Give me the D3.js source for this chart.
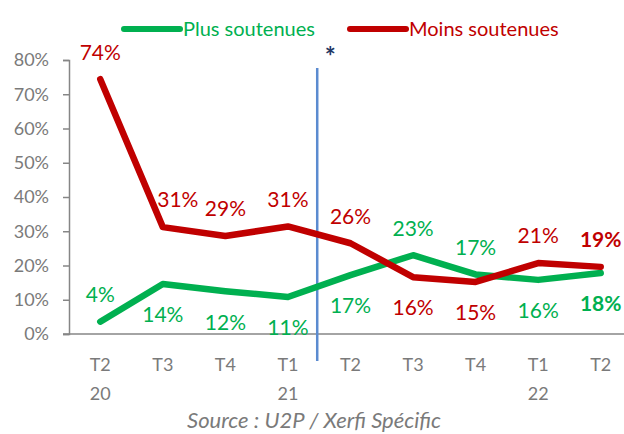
<!DOCTYPE html>
<html>
<head>
<meta charset="utf-8">
<script src="https://cdn.jsdelivr.net/npm/d3@7"></script>
<style>
  body { margin: 0; background: #fff; }
  text { font-family: Lato, "Open Sans", sans-serif; }
</style>
</head>
<body>
<svg id="chart" width="624" height="434"></svg>
<script>
// data
const quarters = ['T2', 'T3', 'T4', 'T1', 'T2', 'T3', 'T4', 'T1', 'T2'];
const years    = ['20', '', '', '21', '', '', '', '22', ''];
const plusSoutenues  = [3.6, 14.6, 12.5, 10.8, 17.2, 23.0, 17.4, 15.8, 17.8];
const moinsSoutenues = [74.4, 31.2, 28.6, 31.4, 26.5, 16.6, 15.2, 20.7, 19.6];
const plusLabels  = ['4%', '14%', '12%', '11%', '17%', '23%', '17%', '16%', '18%'];
const moinsLabels = ['74%', '31%', '29%', '31%', '26%', '16%', '15%', '21%', '19%'];
const plusSide  = ['up', 'down', 'down', 'down', 'down', 'up', 'up', 'down', 'down'];
const moinsSide = ['up', 'up', 'up', 'up', 'up', 'down', 'down', 'up', 'up'];
const yTicks = [0, 10, 20, 30, 40, 50, 60, 70, 80];

const GREEN = '#00b050', RED = '#c00000', GREY = '#7a7a7a';

const svg = d3.select('#chart');
const idx = quarters.map((d, i) => i);

const x = d3.scaleBand().domain(idx).range([69, 632]);
const cx = i => x(i) + x.bandwidth() / 2;
const y = d3.scaleLinear().domain([0, 80]).range([334, 60]);

// y axis
const yAxis = svg.append('g')
    .attr('transform', 'translate(69,0)')
    .call(d3.axisLeft(y).tickValues(yTicks).tickSize(6).tickFormat(d => d + '%'));
yAxis.select('.domain').attr('stroke', '#868686').attr('stroke-width', 1.5);
yAxis.selectAll('.tick line').attr('stroke', '#868686').attr('stroke-width', 1.5);
yAxis.selectAll('.tick text')
    .attr('x', -20)
    .attr('fill', GREY)
    .style('font-size', '18px')
    .style('font-family', 'Lato, sans-serif');

// x axis line
svg.append('line')
    .attr('x1', 63).attr('x2', 624)
    .attr('y1', y(0)).attr('y2', y(0))
    .attr('stroke', '#868686').attr('stroke-width', 1.5);

const xl = svg.append('g').selectAll('text').data(idx).join('text')
    .attr('x', cx)
    .attr('text-anchor', 'middle')
    .attr('fill', GREY)
    .style('font-size', '18px');
xl.append('tspan').attr('x', cx).attr('y', 371).text(i => quarters[i]);
xl.append('tspan').attr('x', cx).attr('y', 400).text(i => years[i]);

// separator
const sepX = (cx(3) + cx(4)) / 2 - 2;
svg.append('line')
    .attr('x1', sepX).attr('x2', sepX)
    .attr('y1', 68).attr('y2', 361)
    .attr('stroke', '#5b8bd0').attr('stroke-width', 2.5);
svg.append('text')
    .attr('x', sepX + 13).attr('y', 66)
    .attr('text-anchor', 'middle')
    .attr('fill', '#1f3864')
    .style('font-size', '26px').style('font-weight', 'bold')
    .text('*');

// series
const line = d3.line().x((d, i) => cx(i)).y(d => y(d));

function drawSeries(values, labels, sides, color, shift) {
  svg.append('path')
      .datum(values)
      .attr('d', line)
      .attr('fill', 'none')
      .attr('stroke', color)
      .attr('stroke-width', 6.5)
      .attr('stroke-linejoin', 'round')
      .attr('stroke-linecap', 'round');

  svg.append('g').selectAll('text').data(values).join('text')
      .attr('x', (d, i) => cx(i) + (shift[i] || 0))
      .attr('y', (d, i) => y(d) + (sides[i] === 'up' ? -27 : 31))
      .attr('dy', '0.35em')
      .attr('text-anchor', 'middle')
      .attr('fill', color)
      .style('font-size', '21px')
      .style('font-weight', (d, i) => i === values.length - 1 ? 'bold' : 'normal')
      .text((d, i) => labels[i]);
}

drawSeries(plusSoutenues, plusLabels, plusSide, GREEN, []);
// the 31% label at T3 sits a bit right of its point
drawSeries(moinsSoutenues, moinsLabels, moinsSide, RED, [0, 15]);

// legend
const legend = [
  { name: 'Plus soutenues', color: GREEN, x: 124 },
  { name: 'Moins soutenues', color: RED, x: 350 }
];
const lg = svg.append('g').selectAll('g').data(legend).join('g')
    .attr('transform', d => `translate(${d.x},29)`);
lg.append('line')
    .attr('x1', 0).attr('x2', 56)
    .attr('stroke', d => d.color)
    .attr('stroke-width', 6)
    .attr('stroke-linecap', 'round');
lg.append('text')
    .attr('x', 59).attr('dy', '0.35em')
    .attr('fill', d => d.color)
    .style('font-size', '20px')
    .text(d => d.name);

// source
svg.append('text')
    .attr('x', 314).attr('y', 428)
    .attr('text-anchor', 'middle')
    .attr('fill', GREY)
    .style('font-size', '22px')
    .style('font-style', 'italic')
    .text('Source : U2P / Xerfi Spécific');
</script>
</body>
</html>
